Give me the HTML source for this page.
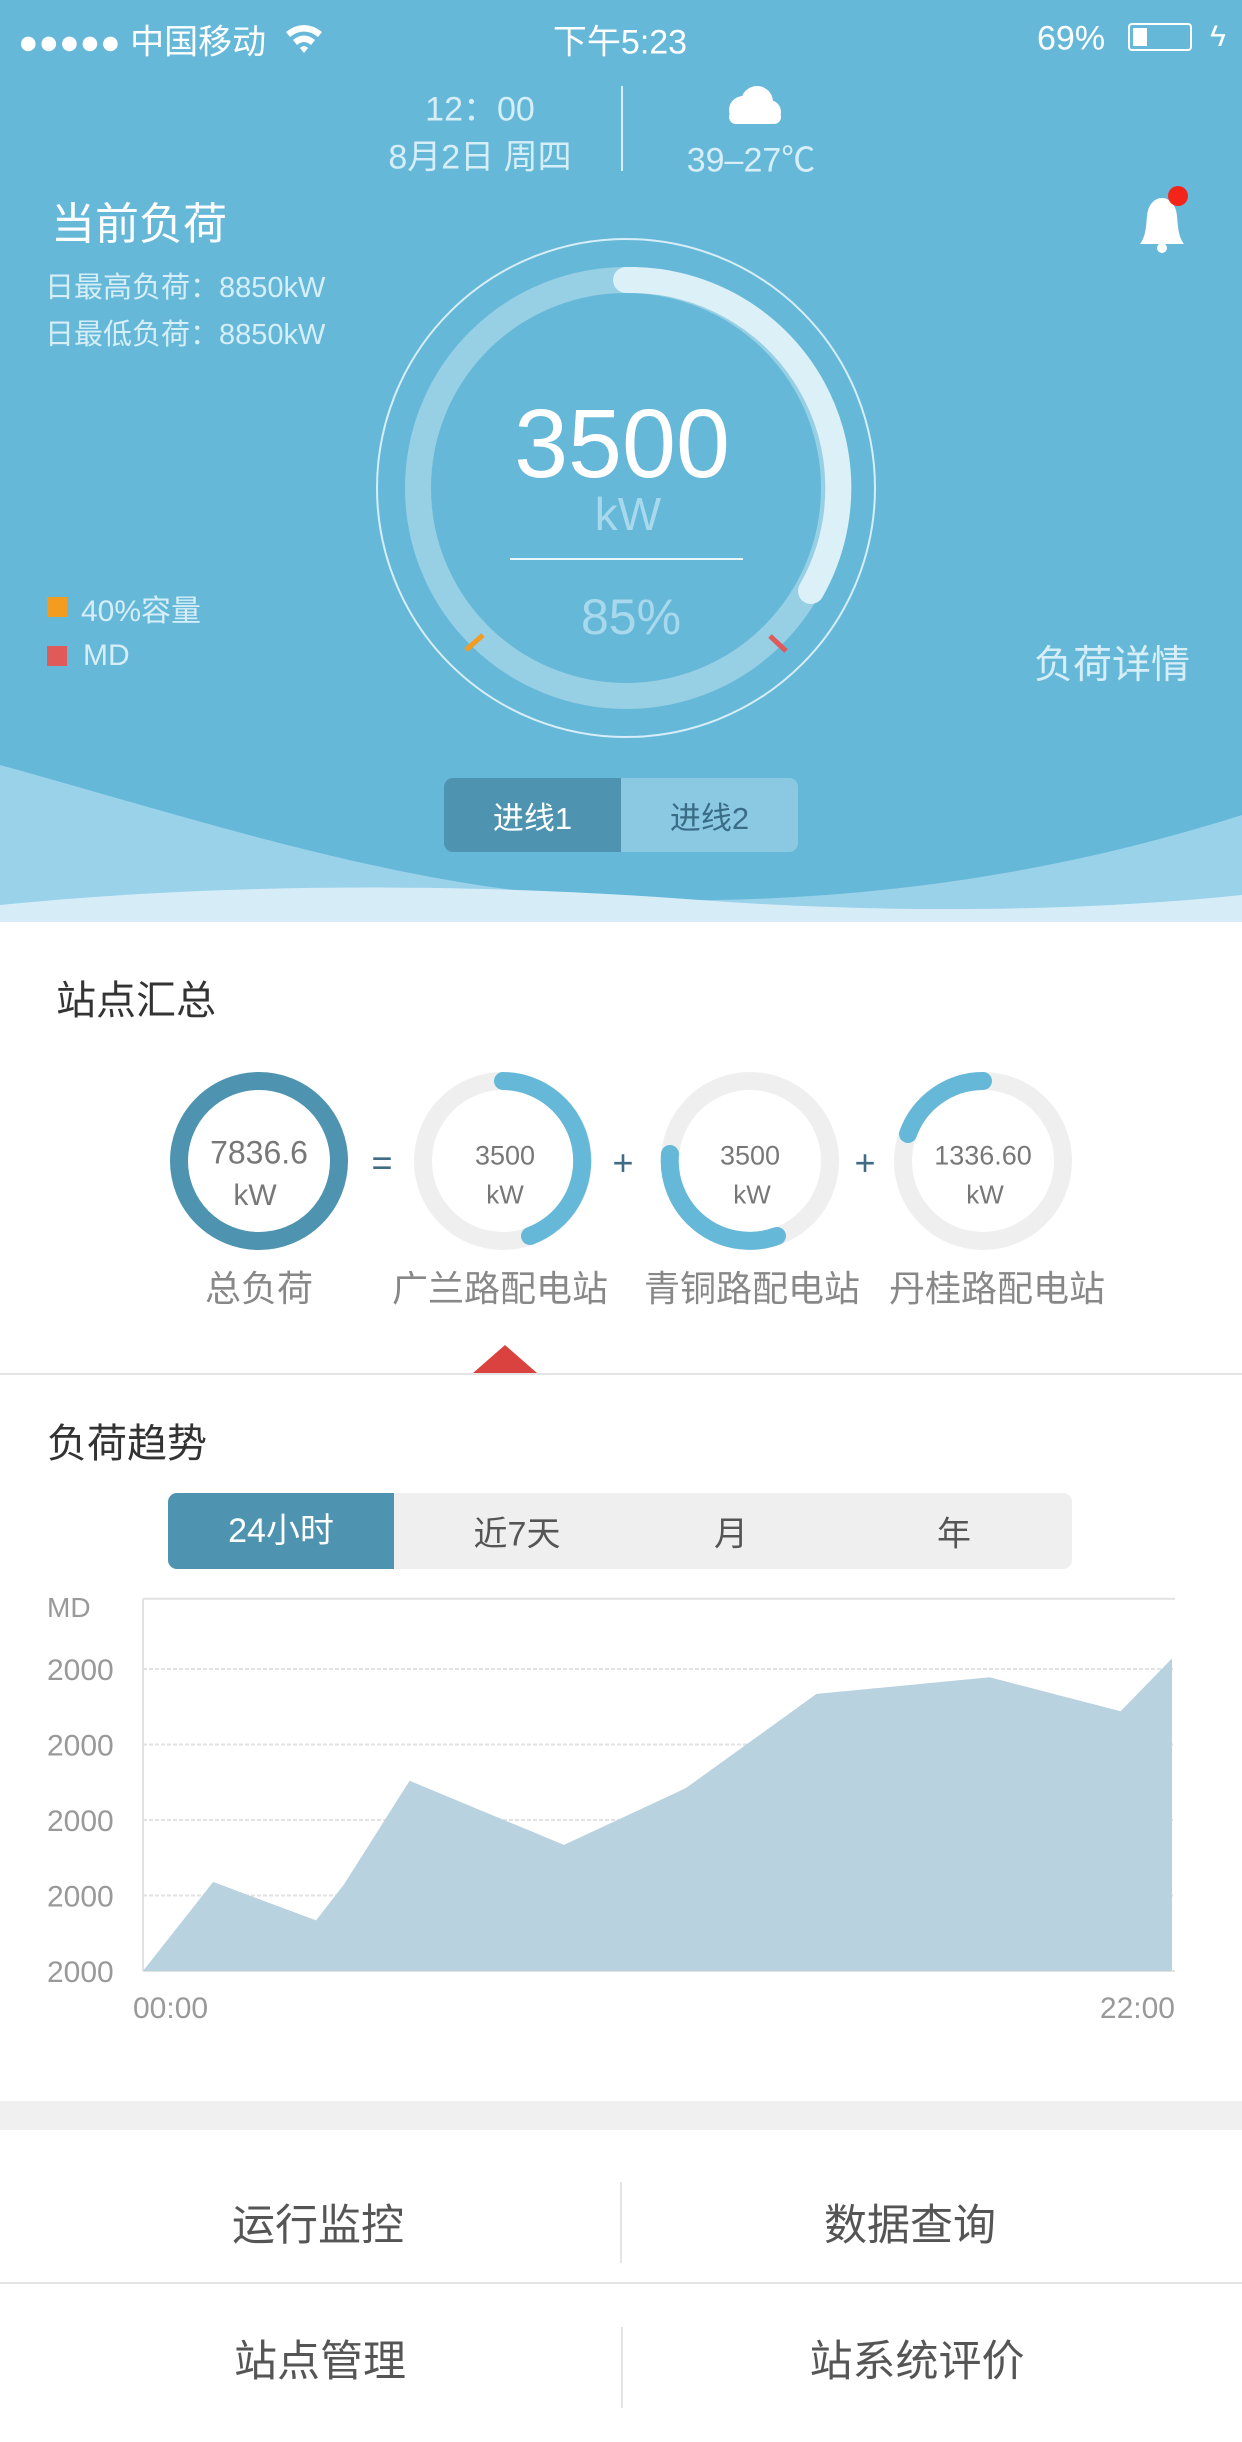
<!DOCTYPE html>
<html><head><meta charset="utf-8">
<style>
body{margin:0;width:1242px;height:2442px;overflow:hidden;background:#fff;font-family:"Liberation Sans","Noto Sans CJK SC",sans-serif;position:relative}
.a{position:absolute;white-space:nowrap}
.c{transform:translate(-50%,-50%)}
.l{transform:translateY(-50%)}
</style></head><body>
<svg class="a" style="left:0;top:0" width="1242" height="922">
<rect width="1242" height="922" fill="#9ad2ea"/>
<path d="M0 0H1242V815C1100 860 900 905 640 900C420 895 200 820 0 765Z" fill="#66b8d9"/>
<path d="M0 905C250 880 500 885 700 900C900 915 1100 910 1242 895V922H0Z" fill="#d6edf8"/>
<circle cx="626" cy="488" r="249" fill="none" stroke="#d6eef7" stroke-width="2"/>
<circle cx="626" cy="488" r="208" fill="none" stroke="#97cfe4" stroke-width="26"/>
<path d="M626 280A208 208 0 0 1 811 591" fill="none" stroke="#dcf0f7" stroke-width="26" stroke-linecap="round"/>
<line x1="466" y1="650" x2="483" y2="635" stroke="#f39c1f" stroke-width="5"/>
<line x1="770" y1="636" x2="786" y2="651" stroke="#e05a5a" stroke-width="5"/>
<line x1="510" y1="559" x2="743" y2="559" stroke="#e8f6fb" stroke-width="2"/>
</svg>
<div class="a l" style="left:18px;top:39px;color:#fff;font-size:34px">●●●●● 中国移动</div>
<svg class="a" style="left:284px;top:22px" width="40" height="34"><path d="M2 10Q20 -4 38 10L34 15Q20 4 6 15Z M9 18Q20 9 31 18L27 23Q20 17 13 23Z M16 26Q20 22 24 26L20 31Z" fill="#fff"/></svg>
<div class="a c" style="left:620px;top:39px;color:#fff;font-size:34px">下午5:23</div>
<div class="a l" style="left:1037px;top:39px;color:#fff;font-size:34px">69%</div>
<div class="a" style="left:1128px;top:23px;width:60px;height:24px;border:2px solid #fff;border-radius:4px"><div style="margin:3px;width:14px;height:18px;background:#fff"></div></div>
<div class="a c" style="left:1218px;top:37px;color:#fff;font-size:30px">ϟ</div>
<div class="a c" style="left:480px;top:106px;color:#d6eef7;font-size:34px">12：00</div>
<div class="a c" style="left:480px;top:154px;color:#d6eef7;font-size:34px">8月2日 周四</div>
<div class="a" style="left:621px;top:86px;width:2px;height:85px;background:#d6eef7"></div>
<svg class="a" style="left:721px;top:84px" width="62" height="42"><circle cx="22" cy="26" r="14" fill="#fff"/><circle cx="36" cy="18" r="16" fill="#fff"/><circle cx="48" cy="28" r="12" fill="#fff"/><rect x="8" y="26" width="52" height="14" rx="7" fill="#fff"/></svg>
<div class="a c" style="left:751px;top:157px;color:#d6eef7;font-size:34px">39–27℃</div>
<div class="a l" style="left:51px;top:220px;color:#fff;font-size:44px">当前负荷</div>
<div class="a l" style="left:45px;top:285px;color:#d6eef7;font-size:29px">日最高负荷：8850kW</div>
<div class="a l" style="left:45px;top:332px;color:#d6eef7;font-size:29px">日最低负荷：8850kW</div>
<svg class="a" style="left:1130px;top:186px" width="70" height="70"><path d="M10 58C16 50 16 40 17 30C18 18 25 12 32 12C39 12 46 18 47 30C48 40 48 50 54 58Z" fill="#fff"/><circle cx="32" cy="62" r="5" fill="#fff"/><circle cx="48" cy="10" r="10" fill="#f3251a"/></svg>
<div class="a c" style="left:622px;top:444px;color:#fff;font-size:97px">3500</div>
<div class="a c" style="left:628px;top:514px;color:#a8d8ec;font-size:46px">kW</div>
<div class="a c" style="left:631px;top:617px;color:#a8d8ec;font-size:50px">85%</div>
<div class="a" style="left:47px;top:597px;width:20px;height:20px;background:#f39c1f"></div>
<div class="a l" style="left:81px;top:608px;color:#d6eef7;font-size:30px">40%容量</div>
<div class="a" style="left:47px;top:646px;width:20px;height:20px;background:#e05a5a"></div>
<div class="a l" style="left:83px;top:656px;color:#d6eef7;font-size:30px">MD</div>
<div class="a c" style="left:1112px;top:662px;color:#d6eef7;font-size:39px">负荷详情</div>
<div class="a" style="left:444px;top:778px;width:354px;height:74px;border-radius:9px;overflow:hidden;display:flex;font-size:31px">
<div style="flex:1;background:#4e94b0;color:#fff;display:flex;align-items:center;justify-content:center">进线1</div>
<div style="flex:1;background:#8bc9e3;color:#3a6d85;display:flex;align-items:center;justify-content:center">进线2</div></div>

<div class="a l" style="left:56px;top:997px;color:#333;font-size:40px">站点汇总</div>
<svg class="a" style="left:0;top:1060px" width="1242" height="320">
<circle cx="259" cy="101" r="80" fill="none" stroke="#4e94b0" stroke-width="18"/>
<g fill="none" stroke-width="18" stroke-linecap="round">
<circle cx="503" cy="101" r="80" stroke="#efefef"/><circle cx="750" cy="101" r="80" stroke="#efefef"/><circle cx="983" cy="101" r="80" stroke="#efefef"/>
<path d="M503 21A80 80 0 0 1 530 176" stroke="#66b8d9"/>
<path d="M670 94A80 80 0 0 0 777 176" stroke="#66b8d9"/>
<path d="M908 74A80 80 0 0 1 983 21" stroke="#66b8d9"/>
</g>
<text x="382" y="115" font-size="36" fill="#3f6b85" text-anchor="middle">=</text>
<text x="623" y="115" font-size="36" fill="#3f6b85" text-anchor="middle">+</text>
<text x="865" y="115" font-size="36" fill="#3f6b85" text-anchor="middle">+</text>
<polygon points="473,313 537,313 505,285" fill="#d9423e"/>
</svg>
<div class="a c" style="left:259px;top:1153px;color:#777;font-size:32px">7836.6</div>
<div class="a c" style="left:255px;top:1196px;color:#777;font-size:30px">kW</div>
<div class="a c" style="left:505px;top:1156px;color:#777;font-size:27px">3500</div>
<div class="a c" style="left:505px;top:1195px;color:#777;font-size:26px">kW</div>
<div class="a c" style="left:750px;top:1156px;color:#777;font-size:27px">3500</div>
<div class="a c" style="left:752px;top:1195px;color:#777;font-size:26px">kW</div>
<div class="a c" style="left:983px;top:1156px;color:#777;font-size:27px">1336.60</div>
<div class="a c" style="left:985px;top:1195px;color:#777;font-size:26px">kW</div>
<div class="a c" style="left:259px;top:1286px;color:#888;font-size:36px">总负荷</div>
<div class="a c" style="left:500px;top:1286px;color:#888;font-size:36px">广兰路配电站</div>
<div class="a c" style="left:752px;top:1286px;color:#888;font-size:36px">青铜路配电站</div>
<div class="a c" style="left:997px;top:1286px;color:#888;font-size:36px">丹桂路配电站</div>
<div class="a" style="left:0;top:1373px;width:1242px;height:2px;background:#e4e4e4"></div>

<div class="a l" style="left:47px;top:1440px;color:#333;font-size:40px">负荷趋势</div>
<div class="a" style="left:168px;top:1493px;width:904px;height:76px;border-radius:9px;overflow:hidden;background:#efefef;font-size:34px;color:#555">
<div class="a" style="left:0;top:0;width:226px;height:76px;background:#4e94b0;color:#fff;line-height:76px;text-align:center">24小时</div>
<div class="a c" style="left:349px;top:38px">近7天</div>
<div class="a c" style="left:563px;top:38px">月</div>
<div class="a c" style="left:786px;top:38px">年</div></div>
<svg id="chart" class="a" style="left:0;top:1580px" width="1242" height="460"></svg>
<script>
const hours=[0,1.5,3.7,4.3,5.7,9.0,11.6,14.4,18.1,20.9,22];
const loads=[0,1.18,0.67,1.15,2.52,1.67,2.42,3.67,3.89,3.44,4.14];
const yTicks=[0,1,2,3,4];
const yTickLabels=["2000","2000","2000","2000","2000"];
const mdValue=4.93;
const xTickVals=[0,22];
const xTickLabels=["00:00","22:00"];
const ns="http://www.w3.org/2000/svg";
const svg=document.getElementById('chart');
const X=h=>143+h/22*(1172-143);
const Y=v=>391-v*75.5;
function mk(t,a){const e=document.createElementNS(ns,t);for(const k in a)e.setAttribute(k,a[k]);svg.appendChild(e);return e;}
let g=mk('line',{x1:143,y1:Y(mdValue),x2:1175,y2:Y(mdValue),stroke:'#e2e2e2','stroke-width':2});


let md=mk('text',{x:47,y:Y(mdValue)+18,'font-size':28,fill:'#999'});md.textContent='MD';


yTicks.forEach((v,i)=>{
 const l=mk('line',{x1:143,y1:Y(v),x2:1175,y2:Y(v),stroke:'#e2e2e2','stroke-width':2,'stroke-dasharray':v?'4 2':''});
 
 
 const t=mk('text',{x:47,y:Y(v)+11,'font-size':30,fill:'#999'});t.textContent=yTickLabels[i];
 
 
});
mk('line',{x1:143,y1:Y(mdValue),x2:143,y2:Y(0),stroke:'#e2e2e2','stroke-width':2});
let d='M'+X(hours[0])+' '+Y(0);
hours.forEach((h,i)=>{d+=' L'+X(h)+' '+Y(loads[i]);});
d+=' L'+X(hours[hours.length-1])+' '+Y(0)+'Z';
const area=mk('path',{d:d,fill:'#b9d2e0'});


xTickVals.forEach((h,i)=>{
 const t=mk('text',{x:X(h)+(i?3:-10),y:Y(0)+47,'font-size':30,fill:'#999','text-anchor':i?'end':'start'});t.textContent=xTickLabels[i];
 
 
});
</script>
<div class="a" style="left:0;top:2101px;width:1242px;height:29px;background:#f0f0f0"></div>
<div class="a c" style="left:318px;top:2222px;color:#555;font-size:43px">运行监控</div>
<div class="a c" style="left:910px;top:2222px;color:#555;font-size:43px">数据查询</div>
<div class="a" style="left:620px;top:2182px;width:2px;height:81px;background:#e4e4e4"></div>
<div class="a" style="left:0;top:2282px;width:1242px;height:2px;background:#e4e4e4"></div>
<div class="a c" style="left:320px;top:2358px;color:#555;font-size:43px">站点管理</div>
<div class="a c" style="left:917px;top:2358px;color:#555;font-size:43px">站系统评价</div>
<div class="a" style="left:621px;top:2327px;width:2px;height:81px;background:#e4e4e4"></div>
</body></html>
